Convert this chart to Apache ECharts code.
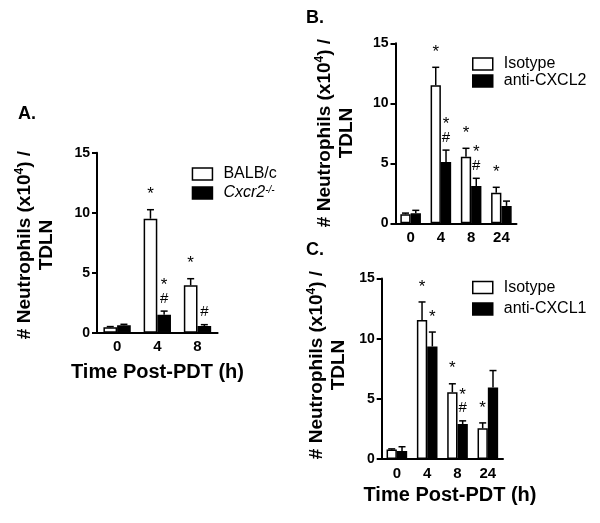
<!DOCTYPE html>
<html><head><meta charset="utf-8">
<script src="https://cdn.jsdelivr.net/npm/echarts@6/dist/echarts.min.js"></script>
<style>html,body{margin:0;padding:0;background:#fff}#c{width:600px;height:523px}</style>
</head><body><div id="c"></div>
<script>
const FONT = 'Liberation Sans, Arial, Helvetica, sans-serif';

// ---- data ----
const yMin = 0, yMax = 15, yStep = 5;

const catsA = ['0', '4', '8'];
const balbc = [0.45, 9.5, 3.95];
const balbcSem = [0.06, 0.75, 0.55];
const cxcr2 = [0.62, 1.5, 0.55];
const cxcr2Sem = [0.08, 0.3, 0.12];
const balbcAnn = ['', '*', '*'];
const cxcr2Ann = ['', '*\n#', '#'];

const catsB = ['0', '4', '8', '24'];
const isoB = [0.75, 11.5, 5.55, 2.55];
const isoBSem = [0.1, 1.5, 0.7, 0.45];
const cxcl2 = [0.83, 5.1, 3.1, 1.45];
const cxcl2Sem = [0.25, 1.0, 0.65, 0.4];
const isoBAnn = ['', '*', '*', '*'];
const cxcl2Ann = ['', '*\n#', '*\n#', ''];

const catsC = ['0', '4', '8', '24'];
const isoC = [0.78, 11.55, 5.55, 2.55];
const isoCSem = [0.06, 1.5, 0.7, 0.45];
const cxcl1 = [0.67, 9.35, 2.9, 5.95];
const cxcl1Sem = [0.35, 1.2, 0.27, 1.4];
const isoCAnn = ['', '*', '*', '*'];
const cxcl1Ann = ['', '*', '*\n#', ''];

// ---- layout / style ----
const BAR = 0.34;
const grids = [
  { left: 97, top: 152.7, width: 120.6, height: 180, outerBoundsMode: 'none' },
  { left: 395.5, top: 43.3, width: 121, height: 180, outerBoundsMode: 'none' },
  { left: 381.7, top: 278.5, width: 121.3, height: 180.5, outerBoundsMode: 'none' }
];

function xAxis(cats, gi) {
  return {
    type: 'category', gridIndex: gi, data: cats,
    axisLine: { lineStyle: { color: '#000', width: 2 } },
    axisTick: { alignWithLabel: true, length: 5, lineStyle: { color: '#000', width: 2 } },
    axisLabel: { color: '#000', fontFamily: FONT, fontWeight: 'bold', fontSize: 15, margin: 7 },
    splitLine: { show: false }
  };
}
function yAxis(gi) {
  return {
    type: 'value', gridIndex: gi, min: yMin, max: yMax, interval: yStep,
    axisLine: { show: true, lineStyle: { color: '#000', width: 2 } },
    axisTick: { show: true, length: 5, lineStyle: { color: '#000', width: 2 } },
    axisLabel: { color: '#000', fontFamily: FONT, fontWeight: 'bold', fontSize: 14, margin: 7 },
    splitLine: { show: false }
  };
}
function bar(name, vals, gi, fill) {
  return {
    type: 'bar', name, xAxisIndex: gi, yAxisIndex: gi, data: vals,
    barWidth: (BAR * 100) + '%', barGap: '0%', silent: true,
    itemStyle: { color: fill, borderColor: '#000', borderWidth: 1.5 }
  };
}
function err(vals, sems, anns, gi, side) {
  return {
    type: 'custom', xAxisIndex: gi, yAxisIndex: gi, z: 5, silent: true,
    data: vals.map((v, i) => [i, v, sems[i]]),
    renderItem(params, api) {
      const i = api.value(0), v = api.value(1), s = api.value(2);
      const bw = api.size([1, 0])[0];
      const cx = api.coord([i, 0])[0] + side * bw * BAR / 2;
      const yv = api.coord([i, v])[1];
      const ye = api.coord([i, v + s])[1];
      const st = { stroke: '#000', lineWidth: 1.5 };
      const children = [
        { type: 'line', shape: { x1: cx, y1: yv, x2: cx, y2: ye }, style: st },
        { type: 'line', shape: { x1: cx - 3.5, y1: ye, x2: cx + 3.5, y2: ye }, style: st }
      ];
      const ann = anns[params.dataIndex];
      if (ann) {
        const marks = ann.split('\n').reverse();
        let off = 0;
        marks.forEach((m, k) => {
          let target;
          if (k === 0) target = ye - (m === '#' ? 12.5 : 19);
          else target = ye - 12.5 - 17.5 * k;
          const isStar = m === '*';
          children.push({
            type: 'text', x: cx, y: isStar ? target + 4 : target,
            style: { text: m, fill: '#000', fontFamily: FONT, fontSize: isStar ? 17 : 15,
                     align: 'center', verticalAlign: 'middle' }
          });
        });
      }
      return { type: 'group', children };
    }
  };
}
function legend(names, left, top, gap) {
  return {
    data: names, orient: 'vertical', left, top, itemGap: gap, padding: 0,
    icon: 'rect', itemWidth: 20, itemHeight: 12, selectedMode: false,
    itemStyle: { borderColor: '#000', borderWidth: 1.5 },
    textStyle: {
      color: '#000', fontFamily: FONT, fontSize: 16, padding: [0, 0, 0, 6],
      rich: {
        i: { fontStyle: 'italic', fontSize: 16, fontFamily: FONT, color: '#000' },
        sup: { fontStyle: 'italic', fontSize: 10, fontFamily: FONT, color: '#000', verticalAlign: 'top', padding: [0, 0, 6, 0] }
      }
    },
    formatter: n => n === 'Cxcr2' ? '{i|Cxcr2}{sup|-/-}' : n
  };
}
const yRich = {
  a: { fontFamily: FONT, fontWeight: 'bold', fontSize: 19, lineHeight: 22, fill: '#000' },
  s: { fontFamily: FONT, fontWeight: 'bold', fontSize: 12, lineHeight: 22, verticalAlign: 'top', fill: '#000' }
};
function yLabel(x, y) {
  return {
    type: 'text', x, y, rotation: Math.PI / 2,
    style: { text: '{a|# Neutrophils (x10}{s|4}{a|) /}\n{a|TDLN}', rich: yRich,
             align: 'center', verticalAlign: 'middle', fill: '#000' }
  };
}
function txt(t, x, y, size, align) {
  return { type: 'text', x, y, style: { text: t, fontFamily: FONT, fontWeight: 'bold', fontSize: size,
           fill: '#000', align: align || 'center', verticalAlign: 'middle' } };
}

const chart = echarts.init(document.getElementById('c'));
chart.setOption({
  animation: false,
  backgroundColor: '#fff',
  grid: grids,
  xAxis: [xAxis(catsA, 0), xAxis(catsB, 1), xAxis(catsC, 2)],
  yAxis: [yAxis(0), yAxis(1), yAxis(2)],
  legend: [
    legend(['BALB/c', 'Cxcr2'], 191.7, 166, 3),
    legend(['Isotype', 'anti-CXCL2'], 472, 56, 1),
    legend(['Isotype', 'anti-CXCL1'], 472, 279.5, 5.5)
  ],
  series: [
    bar('BALB/c', balbc, 0, '#fff'), bar('Cxcr2', cxcr2, 0, '#000'),
    err(balbc, balbcSem, balbcAnn, 0, -1), err(cxcr2, cxcr2Sem, cxcr2Ann, 0, 1),
    bar('Isotype', isoB, 1, '#fff'), bar('anti-CXCL2', cxcl2, 1, '#000'),
    err(isoB, isoBSem, isoBAnn, 1, -1), err(cxcl2, cxcl2Sem, cxcl2Ann, 1, 1),
    bar('Isotype', isoC, 2, '#fff'), bar('anti-CXCL1', cxcl1, 2, '#000'),
    err(isoC, isoCSem, isoCAnn, 2, -1), err(cxcl1, cxcl1Sem, cxcl1Ann, 2, 1)
  ],
  graphic: [
    txt('A.', 18, 114, 18, 'left'),
    txt('B.', 306, 18.5, 18, 'left'),
    txt('C.', 306, 250, 18, 'left'),
    yLabel(36, 245),
    yLabel(336, 133),
    yLabel(328, 365),
    txt('Time Post-PDT (h)', 157.5, 372, 20),
    txt('Time Post-PDT (h)', 450, 495.7, 20)
  ]
});
</script></body></html>
